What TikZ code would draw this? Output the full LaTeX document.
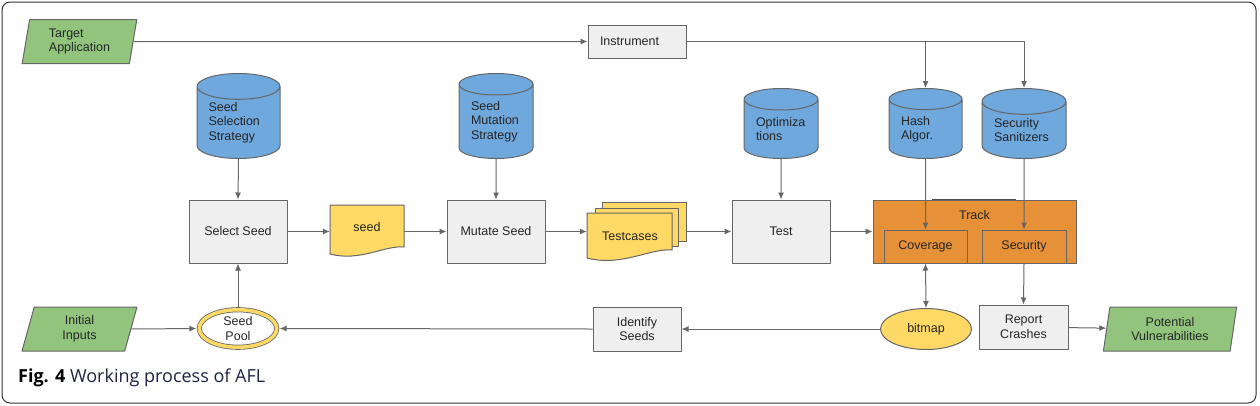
\documentclass[tikz,border=0pt]{standalone}
\usepackage{fontspec}
\setmainfont{Liberation Sans}
\newfontfamily\capfont{Open Sans}
\usetikzlibrary{shapes.geometric,arrows.meta}
\definecolor{linegray}{HTML}{666666}
\definecolor{boxgray}{HTML}{EFEFEF}
\definecolor{iogreen}{HTML}{93C47D}
\definecolor{dbblue}{HTML}{6FA8DC}
\definecolor{docyellow}{HTML}{FFD966}
\definecolor{trackorange}{HTML}{E69138}
\definecolor{capblue}{HTML}{1C2440}
\begin{document}
\begin{tikzpicture}[x=1pt,y=-1pt,>={Latex[length=7pt,width=6pt]}, line join=round,
	every node/.style={font=\fontsize{12.5}{14.5}\selectfont, text=black!85, inner sep=0pt},
	proc/.style={draw=linegray, fill=boxgray, line width=1pt, align=center},
	io/.style={trapezium, trapezium left angle=80, trapezium right angle=100, trapezium stretches=true, draw=linegray, fill=iogreen, line width=1pt, minimum height=44},
	db/.style={cylinder, shape border rotate=90, aspect=0.43, draw=linegray, fill=dbblue, line width=1pt, align=left, anchor=north},
	doc/.style={draw=linegray, fill=docyellow, line width=1pt},
	trk/.style={draw=linegray, fill=trackorange, line width=1pt},
	flow/.style={->, draw=linegray, line width=1pt}]
	\useasboundingbox (0,0) rectangle (1260,405);
	\draw[black!80, line width=1pt, rounded corners=8pt] (2,2) rectangle (1256,403);
	% top row
	\node[io, minimum width=115, align=left] (target) at (79.5,41.5) {Target\\Application};
	\node[proc, minimum width=98, minimum height=33, text width=74, align=left] (instr) at (637,41.5) {Instrument};
	\node[db, minimum width=83, minimum height=85, text width=60] (selstrat) at (238.5,73) {Seed\\Selection\\Strategy};
	\node[db, minimum width=74, minimum height=85, text width=50] (mutstrat) at (496,73) {Seed\\Mutation\\Strategy};
	\node[db, minimum width=74, minimum height=70, text width=50] (optim) at (781,88) {Optimiza\\tions};
	\node[db, minimum width=73, minimum height=70, text width=49] (hash) at (925.5,88) {Hash\\Algor.};
	\node[db, minimum width=84, minimum height=70, text width=60] (secsan) at (1024,88) {Security\\Sanitizers};
	% middle row
	\node[proc, minimum width=98, minimum height=63] (select) at (238,231.5) {Select Seed};
	\draw[doc] (330,205) -- (404,205) -- (404,247) .. controls (385,245) and (360,262) .. (330,254) -- cycle;
	\node[minimum width=74, minimum height=52] (seed) at (367,231.5) {};
	\node (seedlbl) at (367,227) {seed};
	\node[proc, minimum width=98, minimum height=63] (mutate) at (496,231.5) {Mutate Seed};
	\draw[doc] (602,202) -- (686,202) -- (686,241) -- (602,241) -- cycle;
	\draw[doc] (595,208) -- (678,208) -- (678,246) -- (595,246) -- cycle;
	\draw[doc] (587,213) -- (672,213) -- (672,250) .. controls (650,248) and (622,267) .. (587,258) -- cycle;
	\node[minimum width=99, minimum height=56] (tc) at (636.5,231.5) {};
	\node (tclbl) at (630,236) {Testcases};
	\node[proc, minimum width=98, minimum height=63] (test) at (781,231.5) {Test};
	\node[trk, minimum width=203, minimum height=63] (track) at (974.5,231.5) {};
	\draw[black!70, line width=1.2pt] ([xshift=-42.5]track.north) -- ([xshift=41.5]track.north);
	\node (tracklbl) at (974.5,215) {Track};
	\node[trk, minimum width=83, minimum height=33] (cov) at (925.5,246.5) {Coverage};
	\node[trk, minimum width=84, minimum height=33] (sec) at (1024,246.5) {Security};
	% bottom row
	\node[io, minimum width=115, align=center] (initial) at (79.5,329) {Initial\\Inputs};
	\node[ellipse, draw=linegray, line width=0.8pt, double=docyellow, double distance=3.5pt, fill=white, minimum width=77.5, minimum height=37.5, align=center] (pool) at (238,328.5) {Seed\\Pool};
	\node[proc, minimum width=88, minimum height=44] (ident) at (637,329) {Identify\\Seeds};
	\node[ellipse, draw=linegray, fill=docyellow, line width=1pt, minimum width=91, minimum height=41] (bitmap) at (926,329) {bitmap};
	\node[proc, minimum width=89, minimum height=44] (report) at (1023.5,327) {Report\\Crashes};
	\node[io, minimum width=134, align=center] (potvul) at (1170,329) {Potential\\Vulnerabilities};
	\node[anchor=base west, font=\capfont\fontsize{18}{21}\selectfont, text=capblue] (caption) at (18,382) {\textcolor{black}{\bfseries Fig. 4} Working process of AFL};
	% connectors
	\draw[flow] (target.east) -- (instr.west);
	\draw[flow] (instr.east) -| (hash.north);
	\draw[flow] (instr.east) -| (secsan.north);
	\draw[flow] (selstrat.south) -- (select.north);
	\draw[flow] (mutstrat.south) -- (mutate.north);
	\draw[flow] (optim.south) -- (test.north);
	\draw[flow] (hash.south) -- (cov.north);
	\draw[flow] (secsan.south) -- (sec.north);
	\draw[flow] (select) -- (seed);
	\draw[flow] (seed) -- (mutate);
	\draw[flow] (mutate) -- (tc);
	\draw[flow] (tc) -- (test);
	\draw[flow] (test) -- (track);
	\draw[flow, shorten >=2.5pt] (initial.east) -- (pool.west);
	\draw[flow, shorten <=2.5pt] (pool.north) -- (select.south);
	\draw[flow, shorten >=2.5pt] (ident.west) -- (pool.east);
	\draw[flow] (bitmap.west) -- (ident.east);
	\draw[flow, <->] (cov.south) -- (bitmap.north);
	\draw[flow] (sec.south) -- (report.north);
	\draw[flow] (report) -- (potvul);
\end{tikzpicture}
\end{document}
